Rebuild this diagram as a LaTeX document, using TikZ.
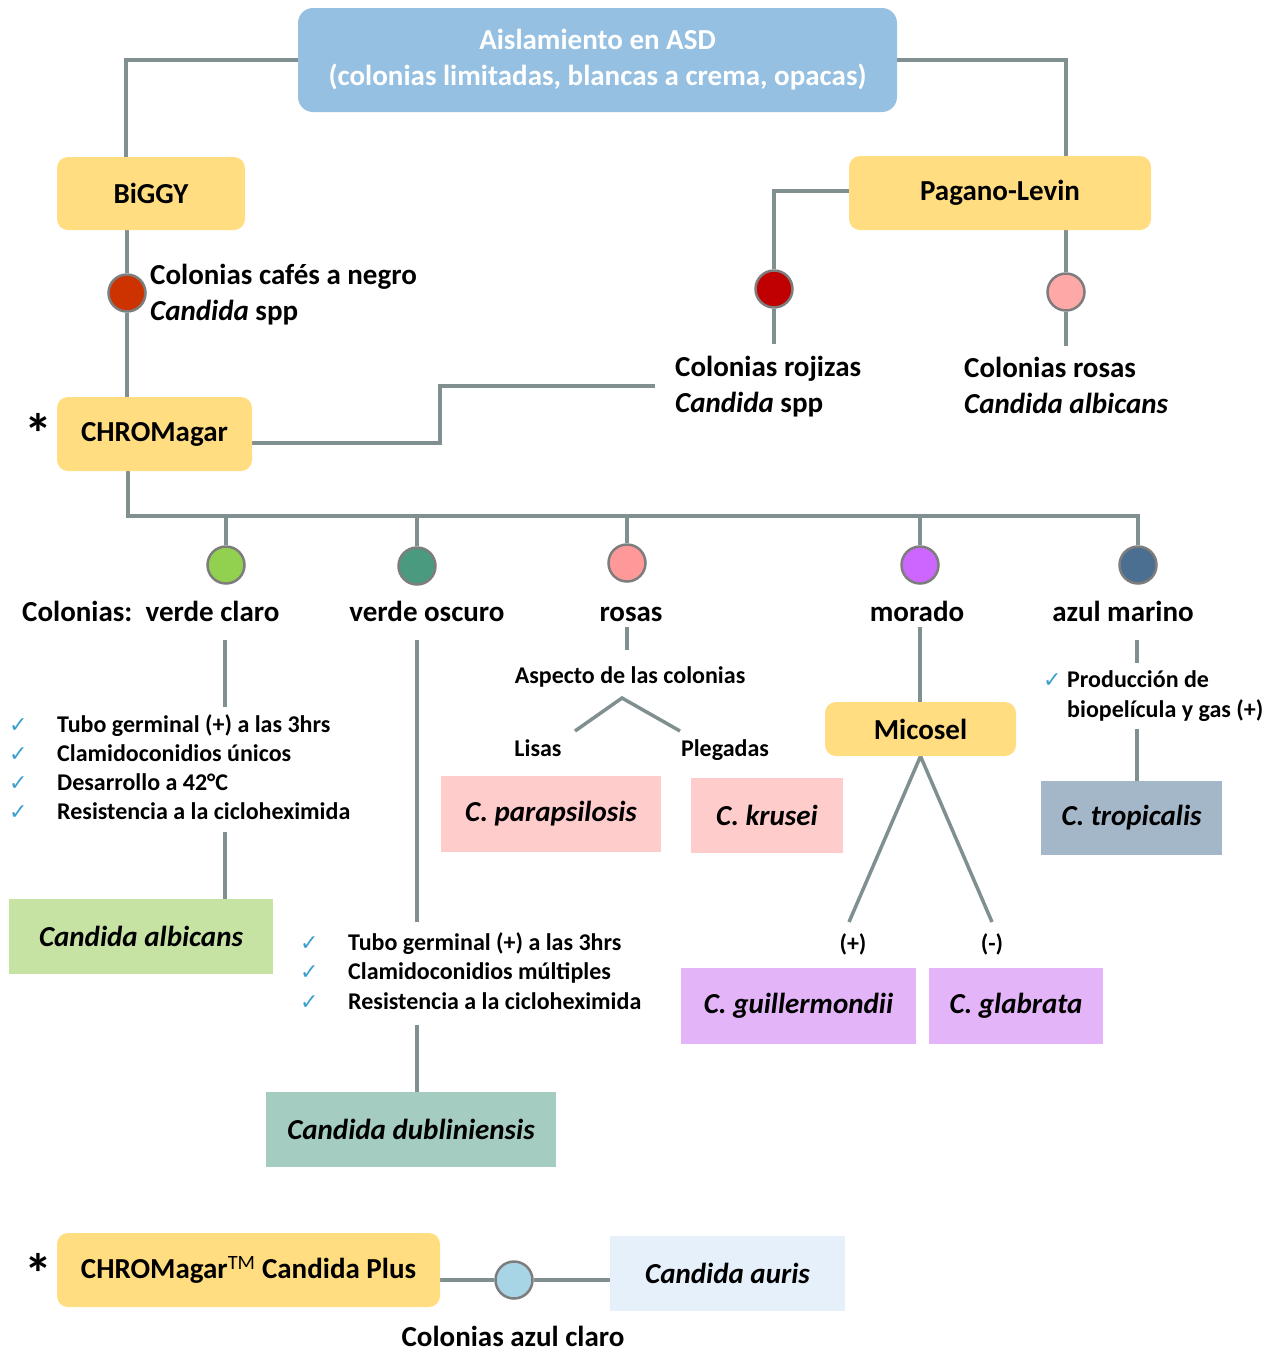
\documentclass[tikz,border=0pt]{standalone}
\usepackage{fontspec}
\setmainfont{Carlito}
\newfontfamily\symf{DejaVu Sans}
\usetikzlibrary{backgrounds}
\definecolor{titlebl}{RGB}{149,192,225}
\definecolor{yel}{RGB}{255,221,128}
\definecolor{lgray}{RGB}{128,143,143}
\definecolor{dgray}{RGB}{125,125,125}
\definecolor{cbrown}{RGB}{204,51,0}
\definecolor{cred}{RGB}{192,0,0}
\definecolor{cpinkA}{RGB}{255,168,168}
\definecolor{clgreen}{RGB}{146,208,80}
\definecolor{cdgreen}{RGB}{74,154,128}
\definecolor{cpinkB}{RGB}{255,153,153}
\definecolor{cpurple}{RGB}{204,102,255}
\definecolor{cnavy}{RGB}{74,111,144}
\definecolor{clblue}{RGB}{168,213,230}
\definecolor{fgreen}{RGB}{198,227,164}
\definecolor{fteal}{RGB}{164,204,192}
\definecolor{fpink}{RGB}{255,204,204}
\definecolor{fpurple}{RGB}{228,180,248}
\definecolor{ftrop}{RGB}{164,183,200}
\definecolor{fauris}{RGB}{230,240,250}
\definecolor{chk}{RGB}{60,160,205}
\newcommand{\ckm}{{\symf\color{chk}\fontsize{22}{24}\selectfont ✓}}
\begin{document}
\begin{tikzpicture}[x=1pt,y=-1pt,
  ybox/.style={fill=yel, rounded corners=11pt, inner sep=0pt, font=\fontsize{29}{34}\selectfont\bfseries},
  sbox/.style={inner sep=0pt, font=\fontsize{29}{34}\selectfont\bfseries\itshape},
  dot/.style={circle, draw=dgray, line width=2.5pt, minimum size=37pt, inner sep=0pt},
  conn/.style={draw=lgray, line width=3.5pt},
  lbl/.style={font=\fontsize{29}{36}\selectfont\bfseries, inner sep=0pt},
  lbls/.style={lbl, text height=20pt, text depth=6pt},
  smalltxt/.style={font=\fontsize{24}{29}\selectfont\bfseries, inner sep=0pt, text height=16pt, text depth=5pt},
  star/.style={font=\fontsize{56}{56}\selectfont\bfseries, inner sep=0pt}
]
\useasboundingbox (0,0) rectangle (1277,1353);

% ---------- boxes ----------
\node[fill=titlebl, rounded corners=15pt, minimum width=599pt, minimum height=104pt, inner sep=0pt,
      text=white, align=center, font=\fontsize{29}{36}\selectfont\bfseries] (title) at (597.5,60)
      {Aislamiento en ASD\\(colonias limitadas, blancas a crema, opacas)};
\node[ybox, minimum width=188pt, minimum height=73pt] (biggy) at (151,193.5) {BiGGY};
\node[ybox, minimum width=195pt, minimum height=74pt] (chrom) at (154.5,434) {CHROMagar};
\node[ybox, minimum width=302pt, minimum height=74pt] (pagano) at (1000,193) {Pagano-Levin};
\node[ybox, minimum width=191pt, minimum height=54pt] (micosel) at (920.5,729) {Micosel};
\node[ybox, minimum width=383pt, minimum height=74pt] (plus) at (248.5,1270) {CHROMagar\textsuperscript{\normalfont TM} Candida Plus};
\node[star] (s1) at (38,433) {*};
\node[star] (s2) at (38,1273) {*};

\node[sbox, fill=fgreen, minimum width=264pt, minimum height=75pt] (calb) at (141,936.5) {Candida albicans};
\node[sbox, fill=fteal, minimum width=290pt, minimum height=75pt] (cdub) at (411,1129.5) {Candida dubliniensis};
\node[sbox, fill=fpink, minimum width=220pt, minimum height=76pt] (cpara) at (551,814) {C. parapsilosis};
\node[sbox, fill=fpink, minimum width=152pt, minimum height=75pt] (ckru) at (767,815.5) {C. krusei};
\node[sbox, fill=fpurple, minimum width=235pt, minimum height=76pt] (cguil) at (798.5,1006) {C. guillermondii};
\node[sbox, fill=fpurple, minimum width=174pt, minimum height=76pt] (cglab) at (1016,1006) {C. glabrata};
\node[sbox, fill=ftrop, minimum width=181pt, minimum height=74pt] (ctrop) at (1131.5,818) {C. tropicalis};
\node[sbox, fill=fauris, minimum width=235pt, minimum height=75pt] (caur) at (727.5,1273.5) {Candida auris};

% ---------- dots ----------
\node[dot, fill=cbrown] (d1) at (127,293) {};
\node[dot, fill=cred] (d2) at (774,289) {};
\node[dot, fill=cpinkA] (d3) at (1066,292) {};
\node[dot, fill=clgreen] (g1) at (226,565) {};
\node[dot, fill=cdgreen] (g2) at (417,566) {};
\node[dot, fill=cpinkB] (g3) at (627,563) {};
\node[dot, fill=cpurple] (g4) at (920,565) {};
\node[dot, fill=cnavy] (g5) at (1138,565) {};
\node[dot, fill=clblue] (db) at (514,1280) {};

% ---------- labels ----------
\node[lbl, align=left, anchor=west] (lcafe) at (150,295) {Colonias cafés a negro\\\textit{Candida} spp};
\node[lbl, align=left, anchor=west] (lroj) at (675,387) {Colonias rojizas\\\textit{Candida} spp};
\node[lbl, align=left, anchor=west] (lros) at (964,385) {Colonias rosas\\\textit{Candida albicans}};

\node[lbls, anchor=west] (lvc) at (22,614) {Colonias:\ \ verde claro};
\node[lbls] (lvo) at (427,614) {verde oscuro};
\node[lbls] (lrs) at (631,614) {rosas};
\node[lbls] (lmo) at (917,614) {morado};
\node[lbls] (laz) at (1123,614) {azul marino};
\node[lbls] (lazc) at (513,1339) {Colonias azul claro};

% checklists
\node[smalltxt, anchor=west] (a1) at (9,727) {\makebox[48pt][l]{\ckm}Tubo germinal (+) a las 3hrs};
\node[smalltxt, anchor=west] (a2) at (9,756) {\makebox[48pt][l]{\ckm}Clamidoconidios únicos};
\node[smalltxt, anchor=west] (a3) at (9,785) {\makebox[48pt][l]{\ckm}Desarrollo a 42°C};
\node[smalltxt, anchor=west] (a4) at (9,814) {\makebox[48pt][l]{\ckm}Resistencia a la cicloheximida};

\node[smalltxt, anchor=west] (b1) at (300,945) {\makebox[48pt][l]{\ckm}Tubo germinal (+) a las 3hrs};
\node[smalltxt, anchor=west] (b2) at (300,974) {\makebox[48pt][l]{\ckm}Clamidoconidios múltiples};
\node[smalltxt, anchor=west] (b3) at (300,1004) {\makebox[48pt][l]{\ckm}Resistencia a la cicloheximida};

\node[smalltxt, anchor=west] (p1) at (1043,682) {\makebox[24pt][l]{\ckm}Producción de};
\node[smalltxt, anchor=west] (p2) at (1067,712) {biopelícula y gas (+)};

\node[smalltxt] (asp) at (630,678) {Aspecto de las colonias};
\node[smalltxt] (lis) at (538,751) {Lisas};
\node[smalltxt] (ple) at (725,751) {Plegadas};
\node[smalltxt] (pos) at (853,946) {(+)};
\node[smalltxt] (neg) at (992,946) {(-)};

% ---------- free-end coordinates ----------
\coordinate (rojend) at (655,386);
\coordinate (d2end) at (774,344);
\coordinate (d3end) at (1066,346);
\coordinate (busL) at (128,516);
\coordinate (busR) at (1138,516);
\coordinate (vcA) at (225,640);
\coordinate (vcB) at (225,707);
\coordinate (vcC) at (225,832);
\coordinate (voA) at (417,640);
\coordinate (voB) at (417,922);
\coordinate (voC) at (417,1025);
\coordinate (rsA) at (627,627);
\coordinate (rsB) at (627,650);
\coordinate (apex) at (622,698);
\coordinate (lisE) at (575,731);
\coordinate (pleE) at (680,731);
\coordinate (moA) at (920,627);
\coordinate (mpos) at (849,922);
\coordinate (mneg) at (992,922);
\coordinate (azA) at (1137,640);
\coordinate (azB) at (1137,663);
\coordinate (azC) at (1137,729);

% ---------- connectors ----------
\begin{scope}[on background layer]
\draw[conn] (title.west) -| ([xshift=-25pt]biggy.north);
\draw[conn] (title.east) -| ([xshift=66pt]pagano.north);
\draw[conn] (d1 |- biggy.south) -- (d1) -- (d1 |- chrom.north);
\draw[conn] ([yshift=-9pt]chrom.east) -| (440,386) -- (rojend);
\draw[conn] ([yshift=2pt]pagano.west) -| (d2) -- (d2end);
\draw[conn] (d3 |- pagano.south) -- (d3) -- (d3end);
\draw[conn] (busL |- chrom.south) -- (busL) -- (busR) -- (g5);
\draw[conn] (g1 |- busL) -- (g1);
\draw[conn] (g2 |- busL) -- (g2);
\draw[conn] (g3 |- busL) -- (g3);
\draw[conn] (g4 |- busL) -- (g4);
\draw[conn] (vcA) -- (vcB);
\draw[conn] (vcC) -- (vcC |- calb.north);
\draw[conn] (voA) -- (voB);
\draw[conn] (voC) -- (voC |- cdub.north);
\draw[conn] (rsA) -- (rsB);
\draw[conn] (lisE) -- (apex) -- (pleE);
\draw[conn] (moA) -- (moA |- micosel.north);
\draw[conn] (mpos) -- (micosel.south) -- (mneg);
\draw[conn] (azA) -- (azB);
\draw[conn] (azC) -- (azC |- ctrop.north);
\draw[conn] (db -| plus.east) -- (db) -- (db -| caur.west);
\end{scope}
\end{tikzpicture}
\end{document}
